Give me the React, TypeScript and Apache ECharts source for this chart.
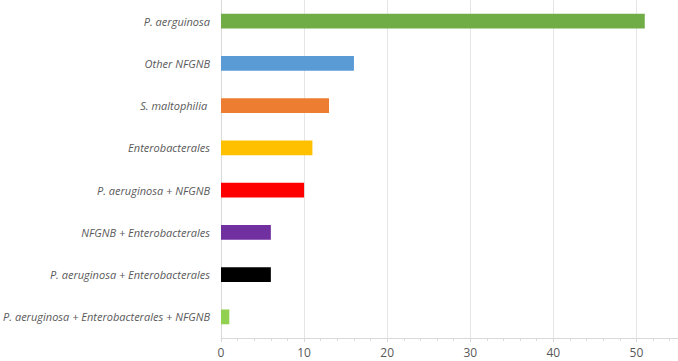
import React, { useEffect, useRef } from "react";
import * as echarts from "echarts";

const categories = [
  "P. aerguinosa",
  "Other NFGNB",
  "S. maltophilia ",
  "Enterobacterales",
  "P. aeruginosa + NFGNB",
  "NFGNB + Enterobacterales",
  "P. aeruginosa + Enterobacterales",
  "P. aeruginosa + Enterobacterales + NFGNB",
];
const values = [51, 16, 13, 11, 10, 6, 6, 1];
const colors = ["#70AD47", "#5B9BD5", "#ED7D31", "#FFC000", "#FF0000", "#7030A0", "#000000", "#92D050"];

export default function App() {
  const ref = useRef<HTMLDivElement>(null);
  useEffect(() => {
    if (!ref.current) return;
    const chart = echarts.init(ref.current, null, { renderer: "svg" });
    const cats = [...categories].reverse();
    const vals = [...values].reverse();
    const cols = [...colors].reverse();
    chart.setOption({
      animation: false,
      backgroundColor: "#ffffff",
      grid: { left: 221, right: 0, top: 0, height: 338, containLabel: false },
      xAxis: {
        type: "value",
        min: 0,
        max: 55,
        interval: 10,
        axisLine: { show: true, lineStyle: { color: "#d9d9d9" } },
        axisTick: { show: true, length: 4, lineStyle: { color: "#d9d9d9" } },
        minorTick: { show: true, splitNumber: 5, length: 3, lineStyle: { color: "#d9d9d9" } },
        splitLine: { show: true, lineStyle: { color: "#e6e6e6" } },
        axisLabel: {
          showMaxLabel: false,
          color: "#595959",
          fontSize: 12,
          fontFamily: "Open Sans",
          margin: 8,
        },
      },
      yAxis: {
        type: "category",
        data: cats,
        axisLine: { show: true, lineStyle: { color: "#d9d9d9" } },
        axisTick: { show: false },
        axisLabel: {
          color: "#595959",
          fontSize: 11,
          fontStyle: "italic",
          fontFamily: "Open Sans",
          margin: 11,
        },
      },
      series: [
        {
          type: "bar",
          data: vals.map((v, i) => ({ value: v, itemStyle: { color: cols[i] } })),
          barWidth: "35%",
        },
      ],
    });
    return () => chart.dispose();
  }, []);
  return (
    <div
      ref={ref}
      style={{ position: "absolute", left: 0, top: 0, width: 678, height: 361 }}
    />
  );
}
